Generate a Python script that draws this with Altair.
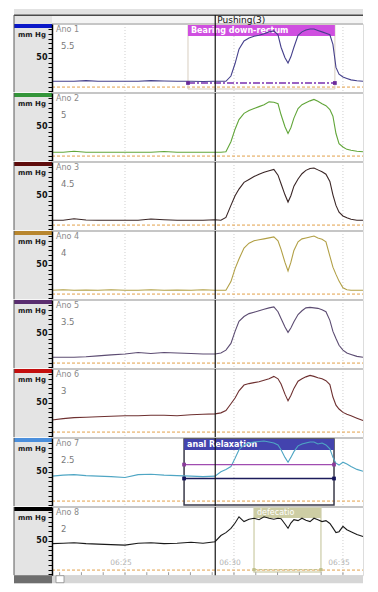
import altair as alt
import pandas as pd

# ---------------- data ----------------
# time in minutes after 06:20
times = [1.65, 2.16, 2.66, 3.21, 3.76, 4.36, 5.00, 5.60, 6.19, 6.79,
         7.39, 8.03, 8.58, 9.13, 9.40, 9.63, 9.86, 10.05, 10.23, 10.46,
         10.69, 10.92, 11.15, 11.38, 11.61, 11.83, 12.02, 12.16, 12.34, 12.48,
         12.61, 12.75, 12.94, 13.12, 13.30, 13.49, 13.67, 13.85, 14.04, 14.22,
         14.40, 14.54, 14.68, 14.82, 15.00, 15.18, 15.37, 15.64, 15.92]

ano1 = [1, 1, 1, 2.5, 1, 1, 1, 1, 2.5, 1.5, 1, 1, 0.5, 1,
        1, 1, 12, 38, 68, 85,
        91, 95, 97, 100, 104, 106, 98, 72, 50, 39,
        52, 72, 97, 104, 108, 110, 110, 107, 104, 101,
        98, 78, 30, 16, 10, 7, 4, 2, 1]
ano2 = [-3, -3, -1, -3, -3, -3, -3, -3, -3, -1.5, -3, -3, -3, -3,
        -3, -2, 19, 45, 65, 78,
        84, 88, 92, 96, 102, 101, 98, 75, 50, 36,
        48, 68, 88, 96, 100, 104, 107, 103, 98, 94,
        86, 72, 36, 15, 8, 3, 1, -1, -2]
ano3 = [-1, -1, 2, -0.5, -1, -1, -1, -1, 1.5, 0, -1, -1, -1, 0,
        -1, 5, 30, 50, 64, 78,
        84, 90, 95, 99, 102, 105, 93, 75, 52, 37,
        50, 70, 85, 96, 103, 107, 108, 104, 100, 95,
        80, 52, 30, 16, 8, 4, 1, -1, -1]
ano4 = [-3, -2, -3, -2.5, -3, -2, -3, -3, -2, -3, -2.5, -3, -2, -3,
        -3, -3, 15, 42, 62, 85,
        95, 100, 102, 104, 106, 108, 100, 82, 55, 37,
        55, 80, 98, 104, 106, 108, 110, 106, 103, 98,
        68, 45, 30, 16, 2, -2, -3, -3, -3]
ano5 = [1, 1, 1, 2, 4, 6, 8, 11, 9, 11, 10, 9, 8, 8,
        10, 16, 30, 55, 76, 86,
        92, 95, 98, 101, 104, 106, 96, 82, 64, 53,
        62, 75, 90, 98, 104, 105, 104, 103, 100, 96,
        78, 55, 40, 26, 16, 10, 7, 3, 1]
ano6 = [14, 17, 19, 20, 21, 22, 23, 23, 24, 24, 23, 25, 26, 27,
        29, 34, 48, 60, 75, 87,
        90, 92, 94, 97, 100, 105, 100, 89, 68, 54,
        65, 80, 95, 100, 104, 107, 105, 102, 100, 96,
        88, 62, 45, 37, 30, 26, 23, 18, 13]
ano7 = [41, 43, 44, 42, 41, 40, 38, 44, 45, 43, 42, 41, 40, 41,
        50, 55, 61, 78, 96, 106,
        110, 112, 113, 114, 112, 110, 106, 96, 80, 70,
        80, 92, 104, 108, 110, 112, 112, 108, 110, 106,
        98, 80, 68, 64, 70, 66, 61, 55, 51]
ano8 = [44, 45, 46, 44, 43, 42, 41, 45, 46, 44, 45, 47, 45, 48,
        61, 67, 76, 87, 100, 90,
        95, 97, 94, 100, 97, 95, 97, 96, 85, 76,
        87, 94, 92, 97, 93, 90, 97, 94, 90, 92,
        86, 77, 67, 69, 80, 73, 69, 63, 59]

series = [ano1, ano2, ano3, ano4, ano5, ano6, ano7, ano8]
channel_names = ["Ano 1", "Ano 2", "Ano 3", "Ano 4", "Ano 5", "Ano 6", "Ano 7", "Ano 8"]
channel_values = ["5.5", "5", "4.5", "4", "3.5", "3", "2.5", "2"]
bar_colors = ["#0a18c8", "#34963a", "#5e0c0c", "#b8862e", "#5a2d70", "#c40e0e", "#4b8fdc", "#000000"]
trace_colors = ["#45408c", "#62a63a", "#3a2626", "#b2a046", "#5c4c72", "#6e3030", "#4fa6c4", "#1a1a1a"]

cursor_time = 9.14
cursor_label = "Pushing(3)"
grid_times = [5, 10, 15]
grid_labels = ["06:25", "06:30", "06:35"]
minor_ticks = list(range(2, 16))
ref_level = -11

ann_labels = ["Bearing down-rectum", "anal Relaxation", "defecatio"]
ann_starts = [7.89, 7.71, 10.92]
ann_ends = [14.63, 14.59, 13.99]
bearing_level = -2.5
relax_levels = [65, 36]
defec_level = -10

# ---------------- layout ----------------
W = 311
H = 68.2
XDOM = [1.65, 15.92]
YDOM = [-21.7, 120.4]
FONT = "DejaVu Sans"
one = pd.DataFrame({"k": [0]})

xs = alt.Scale(domain=XDOM, nice=False, zero=False)
ys = alt.Scale(domain=YDOM, nice=False, zero=False)

yaxis = alt.Axis(values=list(range(-20, 120, 10)),
                 labelExpr="datum.value == 50 ? '50' : ''",
                 tickSize=4, tickColor="#000", tickWidth=1,
                 domainColor="#000", domainWidth=1.5,
                 labelFontSize=8, labelFontWeight="bold", labelColor="#111",
                 labelFont=FONT, labelPadding=1, grid=False, title=None, zindex=2)


def X(f="t"):
    return alt.X(f"{f}:Q", scale=xs, axis=None)


def Y(f="v"):
    return alt.Y(f"{f}:Q", scale=ys, axis=yaxis)


def box(x1, x2, y1, y2, color, **kw):
    return alt.Chart(one).mark_rect(color=color, **kw).encode(
        x=alt.value(x1), x2=alt.value(x2), y=alt.value(y1), y2=alt.value(y2))


def span_rect(s, e, y1, y2, **kw):
    d = pd.DataFrame({"s": [s], "e": [e]})
    return alt.Chart(d).mark_rect(**kw).encode(
        x=X("s"), x2=alt.X2("e"), y=alt.value(y1), y2=alt.value(y2))


def span_line(s, e, lvl, **kw):
    d = pd.DataFrame({"s": [s], "e": [e], "v": [lvl]})
    return alt.Chart(d).mark_rule(**kw).encode(x=X("s"), x2=alt.X2("e"), y=Y())


def end_marks(s, e, lvl, color, size=14):
    d = pd.DataFrame({"t": [s, e], "v": [lvl, lvl]})
    return alt.Chart(d).mark_square(color=color, size=size, opacity=1).encode(x=X(), y=Y())


def label(text, s, y, color="white", weight="bold", size=8):
    d = pd.DataFrame({"s": [s]})
    return alt.Chart(d).mark_text(text=text, align="left", baseline="middle", dx=3,
                                  color=color, fontWeight=weight, fontSize=size,
                                  font=FONT).encode(x=X("s"), y=alt.value(y))


def panel(i):
    L = []
    if i == 0:
        L.append(box(-38, W, -15, -9, "#e2e2e2"))
        L.append(box(-38, W, -9.5, -8, "#4a4a4a"))
        L.append(box(-38, 0, -8, 0, "#e4e4e4"))
        L.append(box(0, W, -8, 0, "#f4f4f4"))
    # left label column
    L.append(box(-38, 0, 0, H, "#e4e4e4"))
    L.append(box(-38, 0, 0, 4, bar_colors[i]))
    L.append(alt.Chart(one).mark_rule(color="#5a5a5a", strokeWidth=1).encode(
        x=alt.value(-38), y=alt.value(-9 if i == 0 else 0), y2=alt.value(H)))
    L.append(alt.Chart(one).mark_text(text="mm Hg", fontSize=7, fontWeight="bold",
                                      color="#1a1a1a", font=FONT, baseline="middle").encode(
        x=alt.value(-20), y=alt.value(11)))
    # grid lines
    L.append(alt.Chart(pd.DataFrame({"t": grid_times})).mark_rule(
        color="#cfcfcf", strokeDash=[1, 2]).encode(x=X(), y=alt.value(0), y2=alt.value(H)))
    # top separator
    L.append(alt.Chart(one).mark_rule(color="#c6c6c6", strokeWidth=2).encode(
        x=alt.value(0), x2=alt.value(W), y=alt.value(0)))
    # reference dashed line
    L.append(alt.Chart(pd.DataFrame({"v": [ref_level]})).mark_rule(
        color="#e2a04a", strokeDash=[3, 2], strokeWidth=1).encode(
        y=Y(), x=alt.value(0), x2=alt.value(W)))

    # annotation backgrounds
    if i == 0:
        s, e = ann_starts[0], ann_ends[0]
        L.append(span_rect(s, e, 1, 65, fillOpacity=0, stroke="#d8cec0", strokeWidth=1))
        L.append(span_rect(s, e, 1, 12, color="#cf4fe0"))
        L.append(label(ann_labels[0], s, 6.5))
    if i == 6:
        s, e = ann_starts[1], ann_ends[1]
        L.append(span_rect(s, e, 1, 67, fillOpacity=0, stroke="#3a3a4a", strokeWidth=1.5))
        L.append(span_rect(s, e, 1, 12, color="#4343ae"))
        L.append(label(ann_labels[1], s, 6.5))
    if i == 7:
        s, e = ann_starts[2], ann_ends[2]
        L.append(span_rect(s, e, 1, 65, fillOpacity=0, stroke="#d6d6b8", strokeWidth=1.5))
        L.append(span_rect(s, e, 1, 11, color="#cdcda4"))
        L.append(label(ann_labels[2], s, 6, weight="normal"))

    # texts
    L.append(alt.Chart(one).mark_text(text=channel_names[i], align="left", baseline="middle",
                                      fontSize=8, color="#8a8a8a", font=FONT).encode(
        x=alt.value(4), y=alt.value(6)))
    L.append(alt.Chart(one).mark_text(text=channel_values[i], align="left", baseline="middle",
                                      fontSize=8.5, color="#7a7a7a", font=FONT).encode(
        x=alt.value(9), y=alt.value(21.5)))

    # trace
    df = pd.DataFrame({"t": times, "v": series[i]})
    L.append(alt.Chart(df).mark_line(color=trace_colors[i], strokeWidth=1.1).encode(
        x=X(), y=Y()))

    # annotation lines and markers
    if i == 0:
        s, e = ann_starts[0], ann_ends[0]
        L.append(span_line(s, e, bearing_level, color="#7a2fb0", strokeWidth=1.3,
                           strokeDash=[7, 2, 2, 2]))
        L.append(end_marks(s, e, bearing_level, "#6a2a9a"))
    if i == 6:
        s, e = ann_starts[1], ann_ends[1]
        L.append(span_line(s, e, relax_levels[0], color="#a04cb0", strokeWidth=1.2))
        L.append(span_line(s, e, relax_levels[1], color="#1c1c5c", strokeWidth=1.5))
        L.append(end_marks(s, e, relax_levels[0], "#8a3a9a"))
        L.append(end_marks(s, e, relax_levels[1], "#14145a"))
    if i == 7:
        s, e = ann_starts[2], ann_ends[2]
        L.append(span_line(s, e, defec_level, color="#c4c494", strokeWidth=1.2, strokeDash=[3, 2]))
        L.append(end_marks(s, e, defec_level, "#c0c08c", size=10))
        L.append(alt.Chart(pd.DataFrame({"t": grid_times, "lab": grid_labels})).mark_text(
            fontSize=7.5, color="#b4b4b4", font=FONT, baseline="middle", dx=-4).encode(
            x=X(), y=alt.value(56), text="lab:N"))
        L.append(alt.Chart(pd.DataFrame({"t": minor_ticks})).mark_rule(color="#9a9a9a").encode(
            x=X(), y=alt.value(H - 3), y2=alt.value(H)))
        # scroll bar
        L.append(box(-38, W, H, H + 8, "#d6d6d6"))
        L.append(box(-38, 0, H, H + 8, "#6e6e6e"))
        L.append(box(4, 12, H + 0.5, H + 7.5, "#ffffff", stroke="#8a8a8a", strokeWidth=0.8))

    # cursor
    L.append(alt.Chart(pd.DataFrame({"t": [cursor_time]})).mark_rule(
        color="#151515", strokeWidth=1.2).encode(
        x=X(), y=alt.value(-9 if i == 0 else 0), y2=alt.value(H)))
    if i == 0:
        L.append(alt.Chart(pd.DataFrame({"t": [cursor_time]})).mark_text(
            text=cursor_label, align="left", baseline="middle", dx=2, fontSize=9,
            color="#111", font=FONT).encode(x=X(), y=alt.value(-4)))

    return alt.layer(*L).properties(width=W, height=H)


chart = alt.vconcat(*[panel(i) for i in range(8)], spacing=0, bounds="flush").properties(
    padding={"left": 13, "top": 8, "right": 0, "bottom": 0}
).configure_view(stroke=None).configure(background="white")

chart.save("out.html", embed_options={"renderer": "svg", "actions": False})
